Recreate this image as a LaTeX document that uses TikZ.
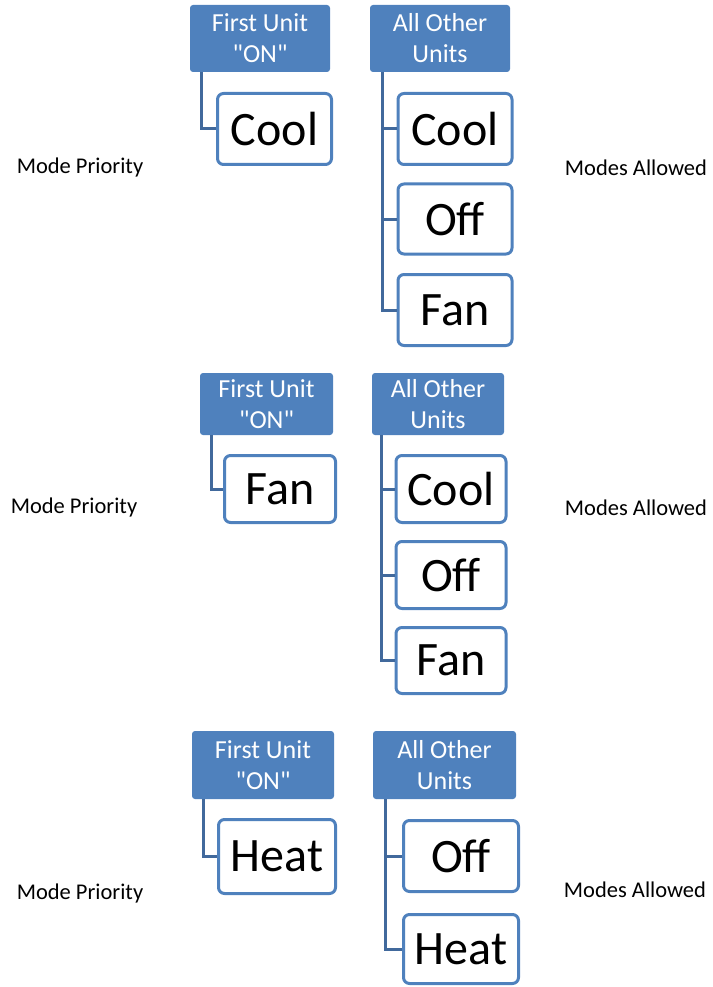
\documentclass[tikz,border=0pt]{standalone}
\usepackage{fontspec}
\setmainfont{Carlito}[Ligatures=TeXOff]
\definecolor{headblue}{HTML}{4F81BD}
\definecolor{linkblue}{HTML}{41699C}

\tikzset{
  head/.style={fill=headblue, text=white, rounded corners=3pt, inner sep=0pt,
    align=center, font=\fontsize{26}{31}\selectfont},
  mode/.style={draw=headblue, fill=white, line width=3pt, rounded corners=6pt,
    inner sep=0pt, font=\fontsize{48}{50}\selectfont},
  tag/.style={font=\fontsize{22.5}{26}\selectfont},
  link/.style={draw=linkblue, line width=3pt}
}

\begin{document}
\begin{tikzpicture}[x=1pt,y=-1pt]
   \useasboundingbox (0,0) rectangle (712,987);

   % first group
   \node[head, minimum width=140pt, minimum height=67pt] (fu1) at (260,38.5) {First Unit\\"ON"};
   \node[head, minimum width=140pt, minimum height=67pt] (ao1) at (440,38.5) {All Other\\Units};
   \node[mode, minimum width=114pt, minimum height=71pt] (m1) at (274.5,129) {Cool};
   \node[mode, minimum width=114pt, minimum height=71pt] (a1) at (455,129) {Cool};
   \node[mode, minimum width=114pt, minimum height=70pt] (a2) at (455,219) {Off};
   \node[mode, minimum width=114pt, minimum height=71pt] (a3) at (455,310) {Fan};
   \node[tag] (p1) at (80,168) {Mode Priority};
   \node[tag] (q1) at (636,168) {Modes Allowed};

   \path[link] ([xshift=12pt]fu1.south west) |- (m1.west);
   \path[link] ([xshift=13pt]ao1.south west) |- (a1.west);
   \path[link] ([xshift=13pt]ao1.south west) |- (a2.west);
   \path[link] ([xshift=13pt]ao1.south west) |- (a3.west);

   % second group
   \node[head, minimum width=133pt, minimum height=62pt] (fu2) at (266.5,404) {First Unit\\"ON"};
   \node[head, minimum width=132pt, minimum height=62pt] (ao2) at (438,404) {All Other\\Units};
   \node[mode, minimum width=111pt, minimum height=67pt] (m2) at (280,489) {Fan};
   \node[mode, minimum width=110pt, minimum height=67pt] (b1) at (451,489) {Cool};
   \node[mode, minimum width=110pt, minimum height=67pt] (b2) at (451,575) {Off};
   \node[mode, minimum width=110pt, minimum height=66pt] (b3) at (451,660.5) {Fan};
   \node[tag] (p2) at (74,507) {Mode Priority};
   \node[tag] (q2) at (636,508) {Modes Allowed};

   \path[link] ([xshift=12pt]fu2.south west) |- (m2.west);
   \path[link] ([xshift=10pt]ao2.south west) |- (b1.west);
   \path[link] ([xshift=10pt]ao2.south west) |- (b2.west);
   \path[link] ([xshift=10pt]ao2.south west) |- (b3.west);

   % third group
   \node[head, minimum width=142pt, minimum height=68pt] (fu3) at (263,765) {First Unit\\"ON"};
   \node[head, minimum width=143pt, minimum height=68pt] (ao3) at (444.5,765) {All Other\\Units};
   \node[mode, minimum width=117pt, minimum height=74pt] (m3) at (277,856.5) {Heat};
   \node[mode, minimum width=115pt, minimum height=71pt] (c1) at (461,856) {Off};
   \node[mode, minimum width=115pt, minimum height=69pt] (c2) at (461,949) {Heat};
   \node[tag] (p3) at (80,893) {Mode Priority};
   \node[tag] (q3) at (635,890) {Modes Allowed};

   \path[link] ([xshift=12pt]fu3.south west) |- (m3.west);
   \path[link] ([xshift=13pt]ao3.south west) |- (c1.west);
   \path[link] ([xshift=13pt]ao3.south west) |- (c2.west);

\end{tikzpicture}
\end{document}
